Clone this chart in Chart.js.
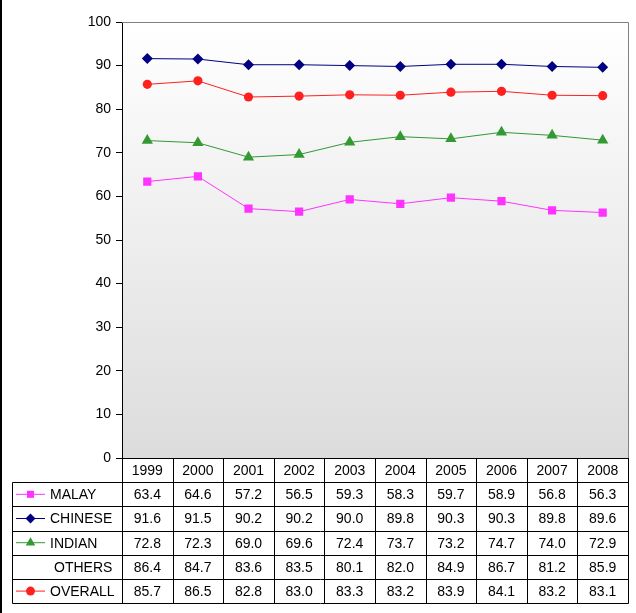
<!DOCTYPE html>
<html>
<head>
<meta charset="utf-8">
<script src="https://cdn.jsdelivr.net/npm/chart.js@4"></script>
<style>
    html, body { margin: 0; padding: 0; background: #fff; }
    canvas { display: block; }
</style>
</head>
<body>
<canvas id="myChart" width="636" height="613"></canvas>
<script>
    const years = ['1999', '2000', '2001', '2002', '2003', '2004', '2005', '2006', '2007', '2008'];
    const malay = [63.4, 64.6, 57.2, 56.5, 59.3, 58.3, 59.7, 58.9, 56.8, 56.3];
    const chinese = [91.6, 91.5, 90.2, 90.2, 90.0, 89.8, 90.3, 90.3, 89.8, 89.6];
    const indian = [72.8, 72.3, 69.0, 69.6, 72.4, 73.7, 73.2, 74.7, 74.0, 72.9];
    const others = [86.4, 84.7, 83.6, 83.5, 80.1, 82.0, 84.9, 86.7, 81.2, 85.9];
    const overall = [85.7, 86.5, 82.8, 83.0, 83.3, 83.2, 83.9, 84.1, 83.2, 83.1];

    const yTicks = [0, 10, 20, 30, 40, 50, 60, 70, 80, 90, 100];

    // rows of the data table under the chart
    const tableRows = [
        { label: 'MALAY', values: malay, color: '#ff33ff', marker: 'rect' },
        { label: 'CHINESE', values: chinese, color: '#000080', marker: 'rectRot' },
        { label: 'INDIAN', values: indian, color: '#339933', marker: 'triangle' },
        { label: 'OTHERS', values: others, color: null, marker: null },
        { label: 'OVERALL', values: overall, color: '#ff2020', marker: 'circle' },
    ];

    const font = '14px "Liberation Sans", Arial, sans-serif';

    function makeSet(row, radius) {
        return {
            label: row.label,
            data: row.values,
            borderColor: row.color,
            backgroundColor: row.color,
            pointStyle: row.marker,
            pointRadius: radius,
            pointBorderWidth: 0,
            borderWidth: 1,
            tension: 0,
        };
    }

    const bgPlugin = {
        id: 'bgPlugin',
        beforeDraw(chart) {
            const c = chart.ctx;
            const a = chart.chartArea;
            c.save();
            c.fillStyle = '#fff';
            c.fillRect(0, 0, chart.width, chart.height);
            let g = c.createLinearGradient(0, a.top, 0, a.bottom);
            g.addColorStop(0, '#ffffff');
            g.addColorStop(1, '#dcdcdc');
            c.fillStyle = g;
            c.fillRect(a.left, a.top, a.right - a.left, a.bottom - a.top);
            c.restore();
        },
    };

    const tablePlugin = {
        id: 'tablePlugin',
        afterDraw(chart) {
            const c = chart.ctx;
            const a = chart.chartArea;
            const x = chart.scales.x;
            const colW = (a.right - a.left) / years.length;
            const rowH = 24.2;
            const top = a.bottom;
            const legendLeft = 12.5;
            c.save();

            // plot border (top and right gray)
            c.strokeStyle = '#808080';
            c.lineWidth = 1;
            c.beginPath();
            c.moveTo(a.left, a.top + 0.5);
            c.lineTo(a.right + 0.5, a.top + 0.5);
            c.lineTo(a.right + 0.5, a.bottom);
            c.stroke();

            // left page edge
            c.strokeStyle = '#000';
            c.lineWidth = 2;
            c.beginPath();
            c.moveTo(1, 0);
            c.lineTo(1, chart.height);
            c.stroke();

            c.lineWidth = 1;
            c.strokeStyle = '#000';
            const bottom = top + rowH * (tableRows.length + 1);
            c.beginPath();
            // horizontal lines
            c.moveTo(a.left, top + 0.5);
            c.lineTo(a.right + 0.5, top + 0.5);
            for (let r = 1; r <= tableRows.length + 1; r++) {
                const yy = Math.round(top + r * rowH) + 0.5;
                c.moveTo(legendLeft, yy);
                c.lineTo(a.right + 0.5, yy);
            }
            // vertical lines
            c.moveTo(legendLeft, Math.round(top + rowH) + 0.5);
            c.lineTo(legendLeft, Math.round(bottom) + 0.5);
            for (let i = 0; i <= years.length; i++) {
                const xx = Math.round(a.left + i * colW) + 0.5;
                c.moveTo(xx, top);
                c.lineTo(xx, Math.round(bottom) + 0.5);
            }
            c.stroke();

            c.font = font;
            c.fillStyle = '#000';
            c.textBaseline = 'middle';
            c.textAlign = 'center';
            years.forEach(function (yr, i) {
                c.fillText(yr, x.getPixelForValue(i), top + rowH / 2 + 1);
            });

            tableRows.forEach(function (row, r) {
                const cy = top + rowH * (r + 1) + rowH / 2 + 1;
                c.textAlign = 'center';
                row.values.forEach(function (v, i) {
                    c.fillText(v.toFixed(1), x.getPixelForValue(i), cy);
                });
                c.textAlign = 'left';
                if (row.color) {
                    c.strokeStyle = row.color;
                    c.beginPath();
                    c.moveTo(16, cy - 1);
                    c.lineTo(45, cy - 1);
                    c.stroke();
                    c.fillStyle = row.color;
                    let rad = row.marker == 'triangle' ? 5.5 : (row.marker == 'circle' ? 4.5 : 5);
                    Chart.helpers.drawPoint(c, { pointStyle: row.marker, radius: rad, rotation: 0, borderWidth: 0 }, 30.5, cy - 1);
                    c.fillStyle = '#000';
                    c.fillText(row.label, 50, cy);
                } else {
                    c.fillText(row.label, 54, cy);
                }
            });
            c.restore();
        },
    };

    const ctx = document.getElementById('myChart').getContext('2d');
    window.myChart = new Chart(ctx, {
        type: 'line',
        data: {
            labels: years,
            datasets: [
                makeSet(tableRows[0], 5.8),
                makeSet(tableRows[1], 5.5),
                makeSet(tableRows[2], 6.5),
                makeSet(tableRows[4], 4.6),
            ],
        },
        options: {
            responsive: false,
            animation: false,
            events: [],
            layout: { padding: { left: 0, top: 22, right: 8, bottom: 155 } },
            plugins: { legend: { display: false }, tooltip: { enabled: false } },
            scales: {
                x: { display: false, offset: true },
                y: {
                    min: 0,
                    max: 100,
                    afterFit: function (scale) { scale.width = 122; },
                    afterBuildTicks: function (scale) {
                        scale.ticks = yTicks.map(function (v) { return { value: v }; });
                    },
                    border: { display: true, color: '#000', width: 1 },
                    grid: { drawOnChartArea: false, tickLength: 6, color: '#000' },
                    ticks: {
                        color: '#000',
                        padding: 5,
                        font: { family: '"Liberation Sans", Arial, sans-serif', size: 14 },
                    },
                },
            },
        },
        plugins: [bgPlugin, tablePlugin],
    });
</script>
</body>
</html>
